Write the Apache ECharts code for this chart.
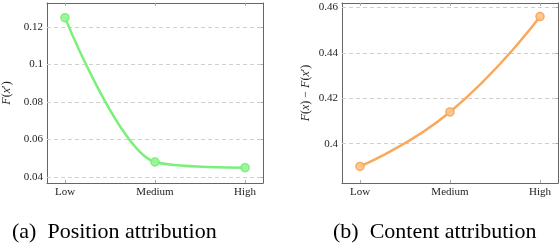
<!DOCTYPE html>
<html><head><meta charset="utf-8">
<script src="https://cdn.jsdelivr.net/npm/echarts@6/dist/echarts.min.js"></script>
<style>html,body{margin:0;padding:0;background:#fff}#c{width:560px;height:244px}</style>
</head><body><div id="c"></div>
<script>
const categories = ['Low', 'Medium', 'High'];
const positionValues = [0.125, 0.048, 0.045];
const contentValues = [0.390, 0.414, 0.456];
const positionTicks = [0.04, 0.06, 0.08, 0.1, 0.12];
const contentTicks = [0.4, 0.42, 0.44, 0.46];
const positionTickLabels = ['0.04', '0.06', '0.08', '0.1', '0.12'];
const contentTickLabels = ['0.4', '0.42', '0.44', '0.46'];

const chart = echarts.init(document.getElementById('c'), null, {renderer: 'canvas'});
const FONT = 'Liberation Serif';
const axisLineStyle = {color: '#666', width: 1};
const catIdx = categories.map((_, i) => i);

function xAxes(gi) {
  return [
    {type: 'value', gridIndex: gi, position: 'bottom', min: -0.2, max: 2.2,
      axisLine: {show: true, onZero: false, lineStyle: axisLineStyle},
      axisTick: {show: true, inside: true, length: 3, customValues: catIdx, lineStyle: {color: '#aaa'}},
      axisLabel: {customValues: catIdx, formatter: v => categories[Math.round(v)], fontFamily: FONT, fontSize: 11, color: '#222', margin: 4},
      splitLine: {show: false}},
    {type: 'value', gridIndex: gi, position: 'top', min: -0.2, max: 2.2,
      axisLine: {show: true, onZero: false, lineStyle: axisLineStyle},
      axisTick: {show: true, inside: true, length: 3, customValues: catIdx, lineStyle: {color: '#aaa'}},
      axisLabel: {show: false}, splitLine: {show: false}}
  ];
}
function yAxes(gi, min, max, ticks, labels, name, gap) {
  return [
    {type: 'value', gridIndex: gi, position: 'left', min: min, max: max,
      axisLine: {show: true, onZero: false, lineStyle: axisLineStyle},
      axisTick: {show: true, inside: true, length: 3, customValues: ticks, lineStyle: {color: '#555'}},
      axisLabel: {customValues: ticks, formatter: v => labels[ticks.findIndex(t => Math.abs(t - v) < 1e-9)], fontFamily: FONT, fontSize: 11, color: '#222', margin: 4},
      splitLine: {show: false},
      name: name, nameLocation: 'middle', nameGap: gap, nameRotate: 90,
      nameTextStyle: {fontFamily: FONT, fontSize: 12, color: '#222', rich: {i: {fontFamily: FONT, fontStyle: 'italic', fontSize: 12, color: '#222'}}}},
    {type: 'value', gridIndex: gi, position: 'right', min: min, max: max,
      axisLine: {show: true, onZero: false, lineStyle: axisLineStyle},
      axisTick: {show: true, inside: true, length: 3, customValues: ticks, lineStyle: {color: '#aaa'}},
      axisLabel: {show: false}, splitLine: {show: false}}
  ];
}
function series(gi, values, ticks, color, fill, smooth) {
  return {
    type: 'line', xAxisIndex: gi * 2, yAxisIndex: gi * 2,
    data: values.map((v, i) => [i, v]),
    smooth: smooth,
    lineStyle: {color: color, width: 2.5},
    symbol: 'circle', symbolSize: 8,
    itemStyle: {color: fill, borderColor: color, borderWidth: 1.5},
    z: 5,
    markLine: {silent: true, symbol: 'none', label: {show: false},
      lineStyle: {type: [4, 3], color: '#d0d0d0', width: 1},
      data: ticks.map(t => ({yAxis: t})), z: 1, animation: false},
    animation: false
  };
}

chart.setOption({
  animation: false,
  grid: [
    {left: 47, top: 3, width: 216, height: 180},
    {left: 342, top: 3, width: 216, height: 180}
  ],
  xAxis: [...xAxes(0), ...xAxes(1)],
  yAxis: [
    ...yAxes(0, 0.0368, 0.1328, positionTicks, positionTickLabels, '{i|F}({i|x}′)', 34),
    ...yAxes(1, 0.3827, 0.462, contentTicks, contentTickLabels, '{i|F}({i|x}) − {i|F}({i|x}′)', 30)
  ],
  series: [
    series(0, positionValues, positionTicks, '#7af07a', 'rgba(150,245,150,0.9)', 0.3),
    series(1, contentValues, contentTicks, '#f9a85c', 'rgba(252,196,140,0.9)', 0.5)
  ],
  graphic: [
    {type: 'text', left: 12, top: 221, style: {text: '(a)  Position attribution', font: '22px "Liberation Serif"', fill: '#000'}},
    {type: 'text', left: 333, top: 221, style: {text: '(b)  Content attribution', font: '22px "Liberation Serif"', fill: '#000'}}
  ]
});
</script></body></html>
